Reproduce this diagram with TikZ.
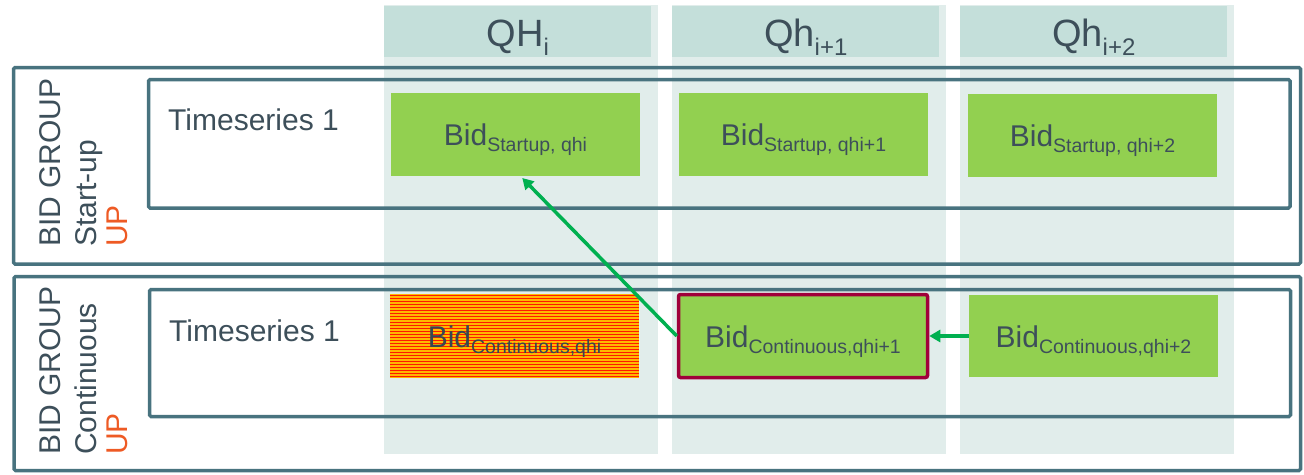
\documentclass[tikz,border=0pt]{standalone}
\usepackage{fontspec}
\setmainfont{Liberation Sans}
\usetikzlibrary{arrows.meta,calc}
\definecolor{txt}{HTML}{3D4F5A}
\definecolor{uporange}{HTML}{EE5A24}
\definecolor{teal}{HTML}{48737F}
\definecolor{hdr}{HTML}{C4DFDA}
\definecolor{colbg}{HTML}{E1EDEB}
\definecolor{bidgreen}{HTML}{92D050}
\definecolor{arrgreen}{HTML}{00B050}
\definecolor{crimson}{HTML}{A0003A}
\definecolor{stripred}{HTML}{FF1A00}
\definecolor{stripyel}{HTML}{FFB800}
\newcommand{\hdrtxt}[2]{\fontsize{38}{40}\selectfont #1\raisebox{-9pt}{\fontsize{24}{25}\selectfont #2}}
\newcommand{\bidtxt}[1]{\fontsize{30}{34}\selectfont Bid\raisebox{-6pt}{\fontsize{19.5}{20}\selectfont #1}}
\tikzset{
  colbox/.style={fill=colbg, inner sep=0pt, minimum width=274pt, minimum height=449pt, anchor=north west},
  hdrbox/.style={fill=hdr, inner sep=0pt, minimum width=267pt, minimum height=51pt, anchor=north west},
  grpbox/.style={draw=teal, line width=3.5pt, rounded corners=1.5pt, inner sep=0pt},
  bidbox/.style={fill=bidgreen, inner sep=0pt, minimum width=249pt, minimum height=83pt},
  lbl/.style={text=txt, inner sep=0pt},
  vlbl/.style={inner sep=0pt, rotate=90, anchor=base west, font=\fontsize{30}{34}\selectfont},
  flow/.style={draw=arrgreen, line width=3.5pt, -{Triangle[length=11pt,width=12pt]}},
}
\begin{document}
\begin{tikzpicture}[x=1pt,y=-1pt]
\useasboundingbox (0,0) rectangle (1304,474);
% column backgrounds
\node[colbox] (colA) at (384,5) {};
\node[colbox] (colB) at (672,5) {};
\node[colbox] (colC) at (960,5) {};
% headers
\node[hdrbox] (hA) at (384,6) {};
\node[hdrbox] (hB) at (672,6) {};
\node[hdrbox] (hC) at (960,6) {};
\node[lbl, anchor=base] (hAt) at ($(hA.north)+(0,40)$) {\hdrtxt{QH}{i}};
\node[lbl, anchor=base] (hBt) at ($(hB.north)+(0,40)$) {\hdrtxt{Qh}{i+1}};
\node[lbl, anchor=base] (hCt) at ($(hC.north)+(0,40)$) {\hdrtxt{Qh}{i+2}};
% group boxes
\node[grpbox, minimum width=1287pt, minimum height=196.5pt] (outer1) at (657,165.75) {};
\node[grpbox, minimum width=1141.5pt, minimum height=128.5pt] (inner1) at (719.25,143.75) {};
\node[grpbox, minimum width=1286.5pt, minimum height=194pt] (outer2) at (657.25,373.5) {};
\node[grpbox, minimum width=1141pt, minimum height=127pt] (inner2) at (720,353) {};
% group labels
\node[vlbl, text=txt] (g1a) at (60,247) {BID GROUP};
\node[vlbl, text=txt] (g1b) at (96.5,247) {Start-up};
\node[vlbl, text=uporange] (g1c) at (127,247) {UP};
\node[vlbl, text=txt] (g2a) at (60,455) {BID GROUP};
\node[vlbl, text=txt] (g2b) at (96.5,455) {Continuous};
\node[vlbl, text=uporange] (g2c) at (127,455) {UP};
% timeseries labels
\node[lbl, anchor=base west, font=\fontsize{30}{34}\selectfont] (ts1) at (168,130) {Timeseries 1};
\node[lbl, anchor=base west, font=\fontsize{30}{34}\selectfont] (ts2) at (169,341) {Timeseries 1};
% startup bids
\node[bidbox] (startA) at (515.5,134.5) {};
\node[bidbox] (startB) at (803.5,134.5) {};
\node[bidbox] (startC) at (1092.5,135.5) {};
\node[lbl, anchor=base] (startAt) at ([yshift=-11pt]startA.center) {\bidtxt{Startup, qhi}};
\node[lbl, anchor=base] (startBt) at ([yshift=-11pt]startB.center) {\bidtxt{Startup, qhi+1}};
\node[lbl, anchor=base] (startCt) at ([yshift=-11pt]startC.center) {\bidtxt{Startup, qhi+2}};
% continuous bids
\node[bidbox, fill=stripyel, minimum height=84pt, path picture={
  \foreach \k in {0,...,28}{
    \fill[stripred] ([yshift=-\k*3pt-0.5pt]path picture bounding box.north west) rectangle ++(249pt,-1.5pt);
  }}] (contA) at (514.5,336) {};
\node[bidbox, draw=crimson, line width=3.5pt, rounded corners=2pt] (contB) at (803,336) {};
\node[bidbox, minimum height=82pt] (contC) at (1093.5,336) {};
\node[lbl, anchor=base, text=txt!90!black] (contAt) at ([yshift=-11pt]contA.center) {\bidtxt{Continuous,qhi}};
\node[lbl, anchor=base] (contBt) at ([yshift=-11pt]contB.center) {\bidtxt{Continuous,qhi+1}};
\node[lbl, anchor=base] (contCt) at ([yshift=-11pt]contC.center) {\bidtxt{Continuous,qhi+2}};
% arrows
\draw[flow] (contC.west) -- (contB.east);
\draw[flow, shorten >=2.5pt] (contB.west) -- ([xshift=5pt]startA.south);
\end{tikzpicture}
\end{document}
